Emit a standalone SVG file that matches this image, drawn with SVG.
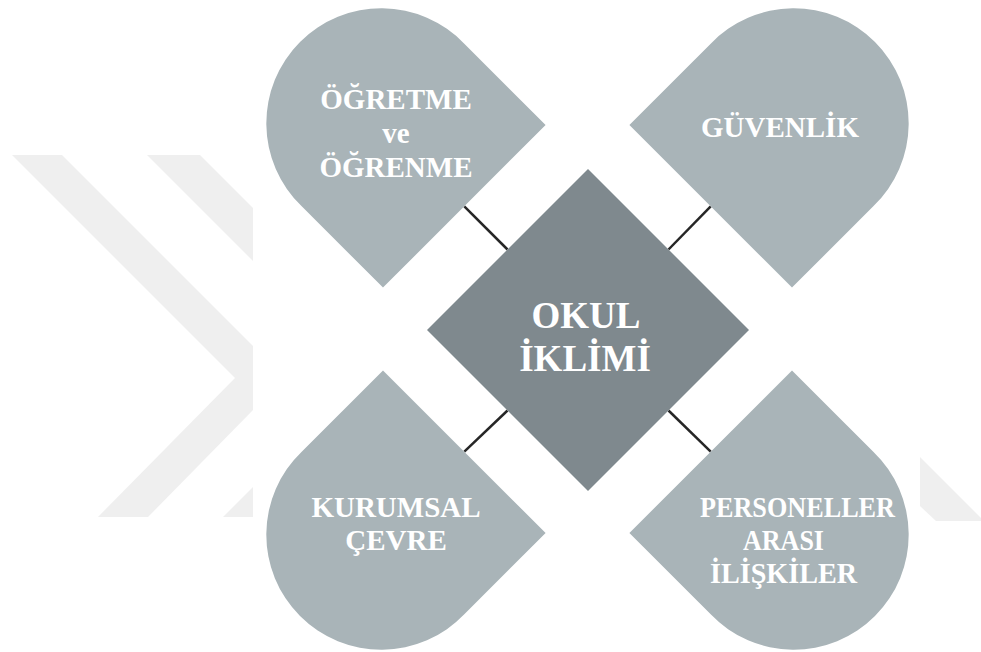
<svg xmlns="http://www.w3.org/2000/svg" width="981" height="652" viewBox="0 0 981 652">
<style>
.wm{fill:#efefef}
.drop{fill:#a9b4b8}
.core{fill:#7f898e}
.t{font-family:"Liberation Serif","Times New Roman","DejaVu Serif",serif;font-weight:bold;fill:#ffffff;text-anchor:middle;font-size:29px}
.tc{font-size:37px}
.conn line{stroke:#262626;stroke-width:2.5}
</style>
<rect width="981" height="652" fill="#ffffff"/>
<g id="watermark">
<polygon class="wm" points="12,155 62,155 253,346 253,410 148,517 98,517 235,378"/>
<polygon class="wm" points="147,155 200,155 253,208 253,261"/>
<polygon class="wm" points="223,517 253,487 253,517"/>
<polygon class="wm" points="920,457 981,518 981,521 936,521 920,506"/>
</g>
<g id="connectors" class="conn">
<line x1="464.3" y1="206.3" x2="507.5" y2="249.5"/>
<line x1="710.7" y1="206.3" x2="668.5" y2="249.5"/>
<line x1="464.3" y1="451.7" x2="507.5" y2="410.5"/>
<line x1="710.7" y1="451.7" x2="668.5" y2="410.5"/>
</g>
<g id="node-ogretme">
<path class="drop" d="M545.6,125 L383,287.6 L301.7,206.3 A115,115 0 1 1 464.3,43.7 Z"/>
<text class="t" x="396" y="109">ÖĞRETME</text>
<text class="t" x="396" y="143">ve</text>
<text class="t" x="396" y="177">ÖĞRENME</text>
</g>
<g id="node-guvenlik">
<path class="drop" d="M629.4,125 L792,287.6 L873.3,206.3 A115,115 0 1 0 710.7,43.7 Z"/>
<text class="t" x="780" y="137">GÜVENLİK</text>
</g>
<g id="node-kurumsal">
<path class="drop" d="M383,370.4 L545.6,533 L464.3,614.3 A115,115 0 1 1 301.7,451.7 Z"/>
<text class="t" x="396" y="517">KURUMSAL</text>
<text class="t" x="396" y="550">ÇEVRE</text>
</g>
<g id="node-personeller">
<path class="drop" d="M792,370.4 L629.4,533 L710.7,614.3 A115,115 0 1 0 873.3,451.7 Z"/>
<text class="t" x="797.5" y="517" textLength="195" lengthAdjust="spacingAndGlyphs">PERSONELLER</text>
<text class="t" x="783.5" y="550" textLength="81" lengthAdjust="spacingAndGlyphs">ARASI</text>
<text class="t" x="783.5" y="583" textLength="147" lengthAdjust="spacingAndGlyphs">İLİŞKİLER</text>
</g>
<g id="node-okul">
<polygon class="core" points="588,169 749,330 588,491 427,330"/>
<text class="t tc" x="586" y="328">OKUL</text>
<text class="t tc" x="585" y="371">İKLİMİ</text>
</g>
</svg>
